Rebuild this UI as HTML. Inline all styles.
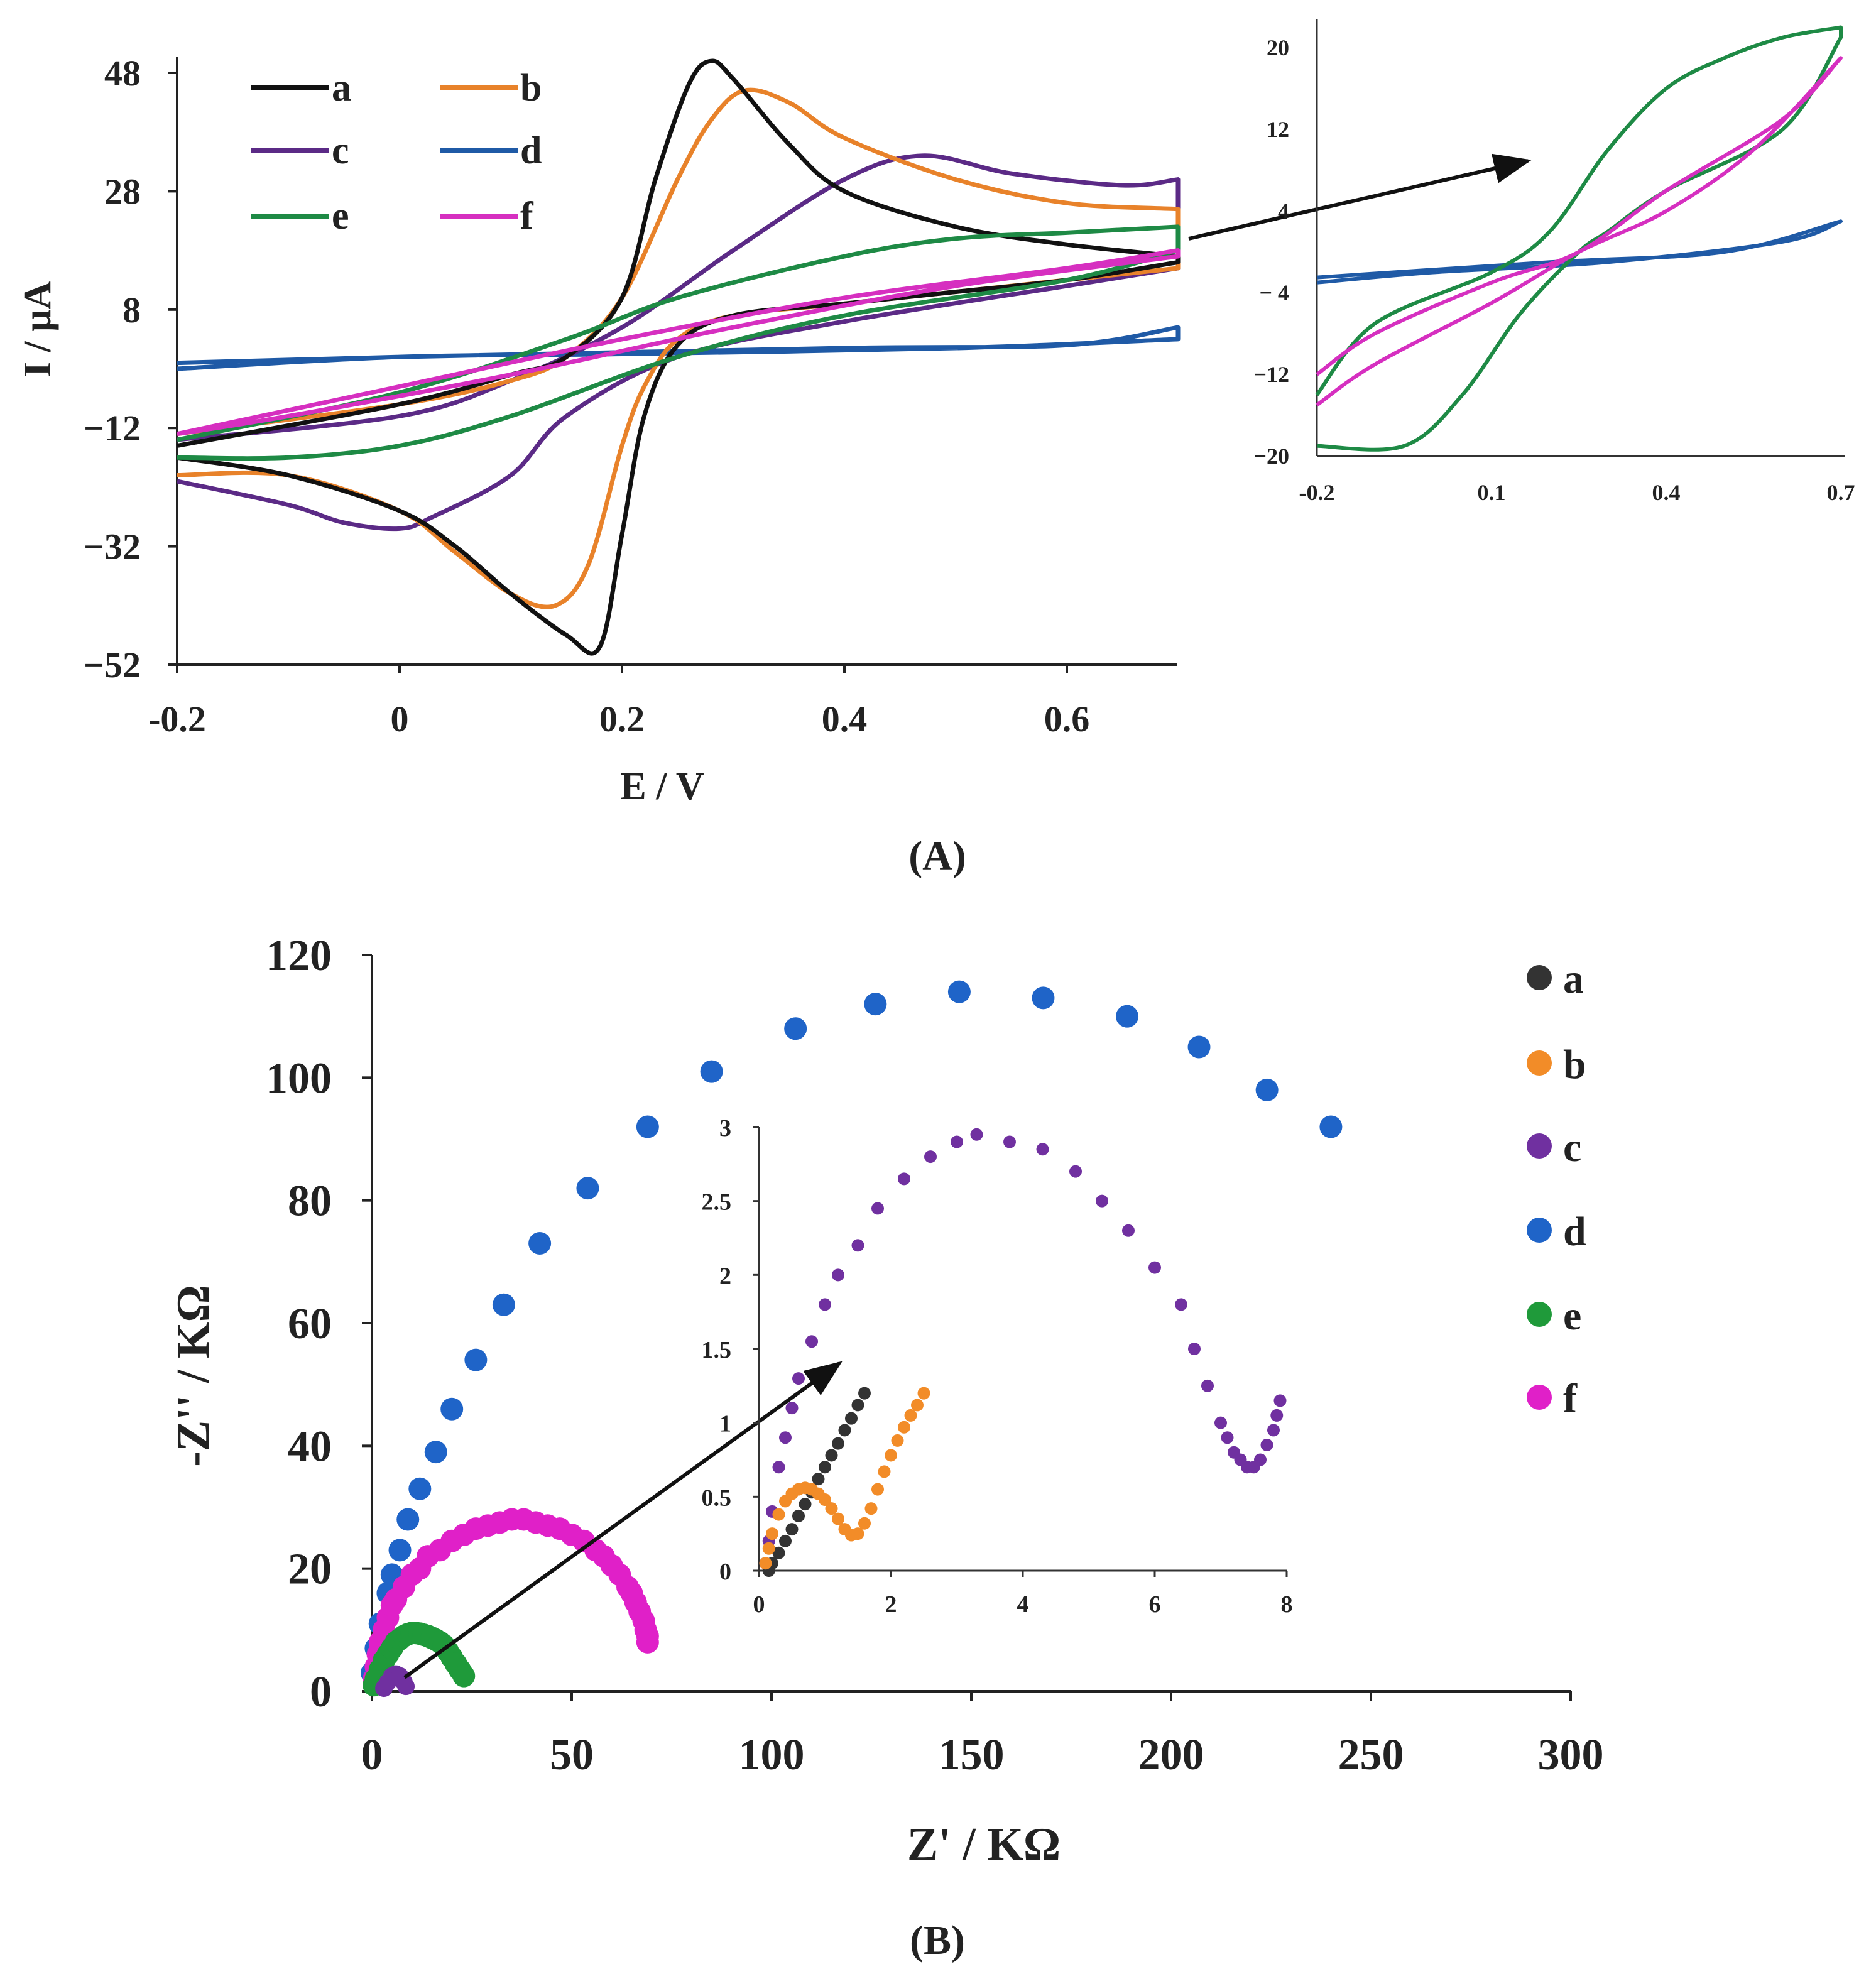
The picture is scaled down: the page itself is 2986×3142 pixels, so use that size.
<!DOCTYPE html>
<html><head><meta charset="utf-8">
<style>
html,body{margin:0;padding:0;background:#fff;}
svg{display:block;}
text{font-family:"Liberation Serif",serif;font-weight:bold;fill:#222;}
</style></head>
<body>
<svg id="fig" width="2986" height="3142" viewBox="0 0 1493 1571" xmlns="http://www.w3.org/2000/svg">
<defs>
<marker id="ah" markerWidth="10" markerHeight="8" refX="9" refY="4" orient="auto"><path d="M0,0 L10,4 L0,8 z" fill="#111"/></marker>
</defs>
<g id="pa"></g>
<g id="pai"></g>
<g id="pb"></g>
<g id="pbi"></g>
</svg>
<script>
// ---- Panel A data (E / V, I / µA) ----
const aTicksX = [-0.2, 0, 0.2, 0.4, 0.6];
const aTickLabelsX = ["-0.2", "0", "0.2", "0.4", "0.6"];
const aTicksY = [48, 28, 8, -12, -32, -52];
const aTickLabelsY = ["48", "28", "8", "\u221212", "\u221232", "\u221252"];
const cvA_E = [-0.2,0,0.1,0.15,0.2,0.23,0.26,0.28,0.3,0.35,0.4,0.5,0.6,0.7, 0.7,0.6,0.5,0.4,0.3,0.25,0.22,0.2,0.18,0.15,0.1,0.05,0,-0.1,-0.2];
const cvA_I = [-15,-8,-3,0,10,30,46,50,47,36,28,22,19,17, 16,13,11,9,7,2,-10,-30,-49,-47,-40,-32,-26,-20,-17];
const cvB_E = [-0.2,0,0.1,0.15,0.2,0.25,0.28,0.31,0.35,0.4,0.5,0.6,0.7, 0.7,0.6,0.4,0.3,0.25,0.22,0.2,0.17,0.14,0.1,0.05,0,-0.1,-0.2];
const cvB_I = [-13,-8,-4,0,10,30,40,45,43,37,30,26,25, 15,13,9,7,3,-5,-15,-35,-42,-40,-33,-26,-20,-20];
const cvC_E = [-0.2,0,0.1,0.2,0.3,0.4,0.47,0.55,0.65,0.7, 0.7,0.6,0.4,0.25,0.15,0.1,0.03,0,-0.05,-0.1,-0.2];
const cvC_I = [-14,-10,-4,5,18,30,34,31,29,30, 15,12,6,0,-10,-20,-27,-29,-28,-25,-21];
const cvD_E = [-0.2,0,0.4,0.6,0.7, 0.7,0.5,0.2,0,-0.2];
const cvD_I = [-1,0,1.5,2,5, 3,1.5,0.5,0,-2];
const cvE_E = [-0.2,0,0.15,0.25,0.4,0.5,0.6,0.7, 0.7,0.6,0.4,0.25,0.1,0,-0.1,-0.2];
const cvE_I = [-14,-6,3,10,17,20,21,22, 18,13,7,0,-10,-15,-17,-17];
const cvF_E = [-0.2,0,0.2,0.4,0.6,0.7, 0.7,0.5,0.3,0.1,-0.1,-0.2];
const cvF_I = [-13,-5,3,10,15,18, 17,12,5,-3,-10,-13];
// inset A
const insTicksX = [-0.2, 0.1, 0.4, 0.7];
const insTickLabelsX = ["-0.2","0.1","0.4","0.7"];
const insTicksY = [20,12,4,-4,-12,-20];
const insTickLabelsY = ["20","12","4","\u2212 4","\u221212","\u221220"];
const insD_E = [-0.2,0,0.3,0.6,0.7, 0.7,0.5,0.2,-0.2];
const insD_I = [-3,-2,-1,1,3, 3,0,-1,-2.5];
const insE_E = [-0.2,-0.1,0.1,0.2,0.3,0.4,0.5,0.6,0.7, 0.7,0.6,0.4,0.3,0.25,0.15,0.05,-0.05,-0.2];
const insE_I = [-14,-7,-2,2,10,16,19,21,22, 21,12,6,2,0,-6,-14,-19,-19];
const insF_E = [-0.2,-0.1,0.1,0.25,0.4,0.6,0.7, 0.7,0.55,0.4,0.25,0.1,-0.1,-0.2];
const insF_I = [-12,-8,-3,0,6,13,19, 19,10,4,0,-5,-11,-15];
// ---- Panel B data (Z' / KΩ, -Z'' / KΩ) ----
const bTicksX = [0,50,100,150,200,250,300];
const bTicksY = [0,20,40,60,80,100,120];
const nyD_x = [0,1,2,4,5,7,9,12,16,20,26,33,42,54,69,85,106,126,147,168,189,207,224,240];
const nyD_y = [3,7,11,16,19,23,28,33,39,46,54,63,73,82,92,101,108,112,114,113,110,105,98,92];
const nyF_x = [0.5,1,1.5,2,3,4,5,6,8,10,12,14,17,20,23,26,29,32,35,38,41,44,47,50,53,56,58,60,62,64,65,66,67,68,68.5,69,69];
const nyF_y = [2,4,6,8,10,12,14,15,17,19,20,22,23,24.5,25.5,26.5,27,27.5,28,28,27.5,27,26.5,25.5,24.5,23,22,20.5,19,17,16,14.5,13,11.5,10,9,8];
const nyE_x = [0.5,1,2,3,4,5,6,7,8,9,10,11,12,13,14,15,16,17,18,19,20,21,22,23];
const nyE_y = [1,2,3.5,5,6,7,8,8.5,9,9.3,9.5,9.5,9.4,9.2,9,8.7,8.4,8,7.5,6.5,5.5,4.5,3.5,2.5];
const nyC_x = [3,4,5,6,7,8,8.5];
const nyC_y = [0.5,1.5,2.5,2.8,2.5,1.5,0.8];
// inset B
const bInsTicksX = [0,2,4,6,8];
const bInsTicksY = [0,0.5,1,1.5,2,2.5,3];
const bInsLabelsY = ["0","0.5","1","1.5","2","2.5","3"];
const insC_x = [0.1,0.15,0.2,0.3,0.4,0.5,0.6,0.8,1.0,1.2,1.5,1.8,2.2,2.6,3.0,3.3,3.8,4.3,4.8,5.2,5.6,6.0,6.4,6.6,6.8,7.0,7.1,7.2,7.3,7.4,7.5,7.6,7.7,7.8,7.85,7.9];
const insC_y = [0.05,0.2,0.4,0.7,0.9,1.1,1.3,1.55,1.8,2.0,2.2,2.45,2.65,2.8,2.9,2.95,2.9,2.85,2.7,2.5,2.3,2.05,1.8,1.5,1.25,1.0,0.9,0.8,0.75,0.7,0.7,0.75,0.85,0.95,1.05,1.15];
const insA_x = [0.15,0.2,0.3,0.4,0.5,0.6,0.7,0.8,0.9,1.0,1.1,1.2,1.3,1.4,1.5,1.6];
const insA_y = [0,0.05,0.12,0.2,0.28,0.37,0.45,0.53,0.62,0.7,0.78,0.86,0.95,1.03,1.12,1.2];
const insB_x = [0.1,0.15,0.2,0.3,0.4,0.5,0.6,0.7,0.8,0.9,1.0,1.1,1.2,1.3,1.4,1.5,1.6,1.7,1.8,1.9,2.0,2.1,2.2,2.3,2.4,2.5];
const insB_y = [0.05,0.15,0.25,0.38,0.47,0.52,0.55,0.56,0.55,0.52,0.48,0.42,0.35,0.28,0.24,0.25,0.32,0.42,0.55,0.67,0.78,0.88,0.97,1.05,1.12,1.2];

const NS = "http://www.w3.org/2000/svg";
function el(parent, tag, attrs, txt) {
  const e = document.createElementNS(NS, tag);
  for (const k in attrs) e.setAttribute(k, attrs[k]);
  if (txt !== undefined) e.textContent = txt;
  parent.appendChild(e);
  return e;
}
function lin(d0, d1, r0, r1) { return v => r0 + (v - d0) * (r1 - r0) / (d1 - d0); }
function smoothSeg(pts, start) {
  let d = (start ? "M" : " L") + pts[0][0] + "," + pts[0][1];
  for (let i = 0; i < pts.length - 1; i++) {
    const p0 = pts[Math.max(i - 1, 0)], p1 = pts[i], p2 = pts[i + 1], p3 = pts[Math.min(i + 2, pts.length - 1)];
    const c1x = p1[0] + (p2[0] - p0[0]) / 6, c1y = p1[1] + (p2[1] - p0[1]) / 6;
    const c2x = p2[0] - (p3[0] - p1[0]) / 6, c2y = p2[1] - (p3[1] - p1[1]) / 6;
    d += " C" + c1x + "," + c1y + " " + c2x + "," + c2y + " " + p2[0] + "," + p2[1];
  }
  return d;
}
// split loop at turnaround (repeated potential) so spline doesn't overshoot
function loopPath(E, I, fx, fy) {
  let k = E.length - 1;
  for (let i = 0; i < E.length - 1; i++) { if (E[i] === E[i + 1]) { k = i; break; } }
  const fwd = [], rev = [];
  for (let i = 0; i <= k; i++) fwd.push([fx(E[i]), fy(I[i])]);
  for (let i = k + 1; i < E.length; i++) rev.push([fx(E[i]), fy(I[i])]);
  let d = smoothSeg(fwd, true);
  if (rev.length > 1) d += smoothSeg(rev, false);
  return d;
}
const COL = {a:"#111111", b:"#e8822a", c:"#5b2a86", d:"#1f5aa6", e:"#1e8a45", f:"#d62fc0"};
const DOT = {a:"#333333", b:"#f28c28", c:"#7030a0", d:"#1f64c8", e:"#1f9a3a", f:"#e020c8"};

// ===== Panel A main =====
const pa = document.getElementById("pa");
const ax = lin(-0.2, 0.6, 141, 849), ay = lin(48, -52, 58, 529);
let t;
t = el(pa, "line", {x1:141, y1:45, x2:141, y2:529, stroke:"#222", "stroke-width":2});


t = el(pa, "line", {x1:141, y1:529, x2:937, y2:529, stroke:"#222", "stroke-width":2});


aTicksY.forEach((v, i) => {
  el(pa, "line", {x1:134, y1:ay(v), x2:141, y2:ay(v), stroke:"#222", "stroke-width":2});
  const tx = el(pa, "text", {x:112, y:ay(v) + 10, "font-size":29, "text-anchor":"end"}, aTickLabelsY[i]);
  
  
});
aTicksX.forEach((v, i) => {
  el(pa, "line", {x1:ax(v), y1:529, x2:ax(v), y2:536, stroke:"#222", "stroke-width":2});
  const tx = el(pa, "text", {x:ax(v), y:582, "font-size":29, "text-anchor":"middle"}, aTickLabelsX[i]);
  
  
});
t = el(pa, "text", {x:527, y:636, "font-size":31, "text-anchor":"middle"}, "E / V");


t = el(pa, "text", {x:0, y:0, "font-size":31, "text-anchor":"middle", transform:"translate(40,262) rotate(-90)"}, "I / \u03bcA");


t = el(pa, "text", {x:746, y:692, "font-size":33, "text-anchor":"middle"}, "(A)");


const cvSeries = [["d",cvD_E,cvD_I],["c",cvC_E,cvC_I],["b",cvB_E,cvB_I],["a",cvA_E,cvA_I],["e",cvE_E,cvE_I],["f",cvF_E,cvF_I]];
cvSeries.forEach(s => {
  const p = el(pa, "path", {d:loopPath(s[1], s[2], ax, ay), fill:"none", stroke:COL[s[0]], "stroke-width":3.5, "stroke-linejoin":"round"});
  
  
});
// legend A
const legA = [["a",200,70],["b",350,70],["c",200,120],["d",350,120],["e",200,172],["f",350,172]];
legA.forEach(l => {
  const g = el(pa, "g", {});
  
  
  el(g, "line", {x1:l[1], y1:l[2], x2:l[1] + 62, y2:l[2], stroke:COL[l[0]], "stroke-width":4});
  el(g, "text", {x:l[1] + 64, y:l[2] + 10, "font-size":31}, l[0]);
});
t = el(pa, "line", {x1:946, y1:190, x2:1216, y2:128, stroke:"#111", "stroke-width":3, "marker-end":"url(#ah)"});



// ===== Panel A inset =====
const pai = document.getElementById("pai");
const ix = lin(-0.2, 0.7, 1048, 1465), iy = lin(20, -20, 38, 363);
el(pai, "line", {x1:1048, y1:15, x2:1048, y2:363, stroke:"#333", "stroke-width":1.5});
el(pai, "line", {x1:1048, y1:363, x2:1468, y2:363, stroke:"#333", "stroke-width":1.5});
insTicksY.forEach((v, i) => {
  const tx = el(pai, "text", {x:1026, y:iy(v) + 6, "font-size":18, "text-anchor":"end"}, insTickLabelsY[i]);
  
  
});
insTicksX.forEach((v, i) => {
  const tx = el(pai, "text", {x:ix(v), y:398, "font-size":18, "text-anchor":"middle"}, insTickLabelsX[i]);
  
  
});
[["d",insD_E,insD_I],["e",insE_E,insE_I],["f",insF_E,insF_I]].forEach(s => {
  const p = el(pai, "path", {d:loopPath(s[1], s[2], ix, iy), fill:"none", stroke:COL[s[0]], "stroke-width":3, "stroke-linejoin":"round"});
  
  
});

// ===== Panel B main =====
const pb = document.getElementById("pb");
const bx = lin(0, 300, 296, 1250), by = lin(0, 120, 1346, 760);
el(pb, "line", {x1:296, y1:760, x2:296, y2:1346, stroke:"#222", "stroke-width":2});
el(pb, "line", {x1:296, y1:1346, x2:1250, y2:1346, stroke:"#222", "stroke-width":2});
bTicksY.forEach(v => {
  el(pb, "line", {x1:288, y1:by(v), x2:296, y2:by(v), stroke:"#222", "stroke-width":2});
  const tx = el(pb, "text", {x:264, y:by(v) + 12, "font-size":35, "text-anchor":"end"}, String(v));
  
  
});
bTicksX.forEach(v => {
  el(pb, "line", {x1:bx(v), y1:1346, x2:bx(v), y2:1354, stroke:"#222", "stroke-width":2});
  const tx = el(pb, "text", {x:bx(v), y:1408, "font-size":35, "text-anchor":"middle"}, String(v));
  
  
});
t = el(pb, "text", {x:783, y:1480, "font-size":37, "text-anchor":"middle"}, "Z'  /  K\u03a9");


t = el(pb, "text", {x:0, y:0, "font-size":37, "text-anchor":"middle", transform:"translate(166,1095) rotate(-90)"}, "-Z'' / K\u03a9");


t = el(pb, "text", {x:746, y:1555, "font-size":33, "text-anchor":"middle"}, "(B)");


[["d",nyD_x,nyD_y,9],["f",nyF_x,nyF_y,9],["e",nyE_x,nyE_y,9],["c",nyC_x,nyC_y,7]].forEach(s => {
  const g = el(pb, "g", {fill:DOT[s[0]]});
  
  
  s[1].forEach((x, i) => {
    const c = el(g, "circle", {cx:bx(x), cy:by(s[2][i]), r:s[3]});
    
    
  });
});
const legB = ["a","b","c","d","e","f"], legBy = [778,846,912,979,1046,1112];
legB.forEach((k, i) => {
  const g = el(pb, "g", {});
  
  
  el(g, "circle", {cx:1225, cy:legBy[i], r:10, fill:DOT[k]});
  el(g, "text", {x:1244, y:legBy[i] + 12, "font-size":33}, k);
});
t = el(pb, "line", {x1:322, y1:1335, x2:668, y2:1085, stroke:"#111", "stroke-width":3, "marker-end":"url(#ah)"});



// ===== Panel B inset =====
const pbi = document.getElementById("pbi");
const jx = lin(0, 8, 604, 1024), jy = lin(0, 3, 1250, 897);
el(pbi, "line", {x1:604, y1:897, x2:604, y2:1250, stroke:"#333", "stroke-width":1.5});
el(pbi, "line", {x1:604, y1:1250, x2:1024, y2:1250, stroke:"#333", "stroke-width":1.5});
bInsTicksY.forEach((v, i) => {
  el(pbi, "line", {x1:599, y1:jy(v), x2:604, y2:jy(v), stroke:"#333", "stroke-width":1.5});
  const tx = el(pbi, "text", {x:582, y:jy(v) + 7, "font-size":19, "text-anchor":"end"}, bInsLabelsY[i]);
  
  
});
bInsTicksX.forEach(v => {
  el(pbi, "line", {x1:jx(v), y1:1250, x2:jx(v), y2:1255, stroke:"#333", "stroke-width":1.5});
  const tx = el(pbi, "text", {x:jx(v), y:1283, "font-size":19, "text-anchor":"middle"}, String(v));
  
  
});
[["c",insC_x,insC_y],["a",insA_x,insA_y],["b",insB_x,insB_y]].forEach(s => {
  const g = el(pbi, "g", {fill:DOT[s[0]]});
  
  
  s[1].forEach((x, i) => {
    const c = el(g, "circle", {cx:jx(x), cy:jy(s[2][i]), r:5});
    
    
  });
});
</script>
</body></html>
